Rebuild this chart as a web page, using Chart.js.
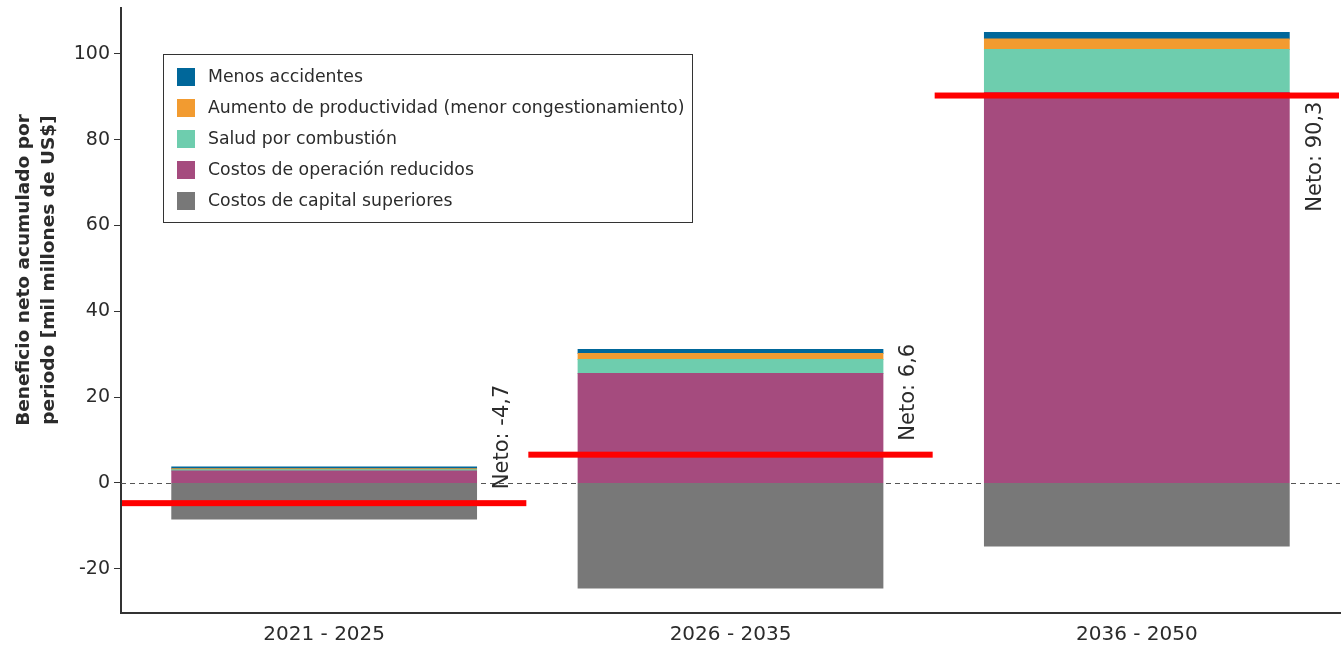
<!DOCTYPE html>
<html><head><meta charset="utf-8">
<script src="https://cdn.jsdelivr.net/npm/chart.js@4.4.0/dist/chart.umd.min.js"></script>
<style>html,body{margin:0;padding:0;background:#fff}#wrap{width:1342px;height:648px;position:relative}</style>
</head><body><div id="wrap"><canvas id="c"></canvas></div>
<script>
const categories = ['2021 - 2025', '2026 - 2035', '2036 - 2050'];
const capitalCosts = [-8.4, -24.5, -14.7];
const operatingSavings = [2.8, 25.5, 91.0];
const combustionHealth = [0.3, 3.3, 10.0];
const productivity = [0.2, 1.4, 2.5];
const fewerAccidents = [0.4, 0.9, 1.5];
const netBenefit = [-4.7, 6.6, 90.3];
const netLabels = ['Neto: -4,7', 'Neto: 6,6', 'Neto: 90,3'];
const yTicks = [-20, 0, 20, 40, 60, 80, 100];
const yTitle = ['Beneficio neto acumulado por', 'periodo [mil millones de US$]'];

const FONT = "'DejaVu Sans', sans-serif";
const TXT = '#2b2b2b';

const datasets = [
  {label: 'Costos de capital superiores', data: capitalCosts, backgroundColor: '#787878'},
  {label: 'Costos de operación reducidos', data: operatingSavings, backgroundColor: '#a54b7e'},
  {label: 'Salud por combustión', data: combustionHealth, backgroundColor: '#6ecdae'},
  {label: 'Aumento de productividad (menor congestionamiento)', data: productivity, backgroundColor: '#f29b30'},
  {label: 'Menos accidentes', data: fewerAccidents, backgroundColor: '#00679a'}
];

const overlay = {
  id: 'overlay',
  beforeDatasetsDraw(chart) {
    const {ctx, chartArea: a, scales: {y}} = chart;
    const y0 = Math.round(y.getPixelForValue(0)) + 0.5;
    ctx.save();
    ctx.strokeStyle = '#555';
    ctx.lineWidth = 1;
    ctx.setLineDash([5, 4]);
    ctx.beginPath(); ctx.moveTo(a.left, y0); ctx.lineTo(a.right, y0); ctx.stroke();
    ctx.restore();
  },
  afterDatasetsDraw(chart) {
    const {ctx, chartArea: a, scales: {x, y}} = chart;
    const step = x.getPixelForValue(1) - x.getPixelForValue(0);
    ctx.save();
    // net lines
    netBenefit.forEach((v, i) => {
      const cx = x.getPixelForValue(i);
      const py = y.getPixelForValue(v);
      ctx.fillStyle = '#ff0000';
      ctx.fillRect(cx - step / 2 + 1, py - 3, step - 2, 6);
    });
    // net labels
    ctx.font = '21px ' + FONT;
    ctx.fillStyle = TXT;
    ctx.textBaseline = 'middle';
    netBenefit.forEach((v, i) => {
      const cx = x.getPixelForValue(i);
      const py = y.getPixelForValue(v);
      const tx = cx + step * 0.375 + 26;
      const w = ctx.measureText(netLabels[i]).width;
      ctx.save();
      ctx.translate(tx, py);
      ctx.rotate(-Math.PI / 2);
      if (py - w - 20 > a.top) { ctx.textAlign = 'left'; ctx.fillText(netLabels[i], 14, 0); }
      else { ctx.textAlign = 'right'; ctx.fillText(netLabels[i], -6, 0); }
      ctx.restore();
    });
    // legend
    const lx = a.left + 42, ly = 54, lw = 529, lh = 168;
    ctx.strokeStyle = '#333'; ctx.lineWidth = 1;
    ctx.strokeRect(lx + 0.5, ly + 0.5, lw, lh);
    ctx.font = '17.3px ' + FONT;
    ctx.textAlign = 'left';
    const order = datasets.slice().reverse();
    order.forEach((d, i) => {
      const ry = ly + 23 + i * 31;
      ctx.fillStyle = d.backgroundColor;
      ctx.fillRect(lx + 14, ry - 9, 18, 18);
      ctx.fillStyle = TXT;
      ctx.fillText(d.label, lx + 45, ry + 1);
    });
    // y title
    ctx.font = 'bold 18.5px ' + FONT;
    ctx.fillStyle = TXT;
    ctx.textAlign = 'center';
    yTitle.forEach((t, i) => {
      ctx.save();
      ctx.translate(24 + i * 25, 270);
      ctx.rotate(-Math.PI / 2);
      ctx.fillText(t, 0, 0);
      ctx.restore();
    });
    ctx.restore();
  }
};

new Chart(document.getElementById('c'), {
  type: 'bar',
  data: {labels: categories, datasets: datasets},
  options: {
    responsive: true,
    maintainAspectRatio: false,
    animation: false,
    layout: {padding: {top: 8, right: 2, left: 0, bottom: 0}},
    datasets: {bar: {categoryPercentage: 1, barPercentage: 0.75, borderWidth: 0, inflateAmount: 0.5}},
    plugins: {legend: {display: false}, tooltip: {enabled: false}},
    scales: {
      x: {
        stacked: true,
        grid: {drawOnChartArea: false, drawTicks: false, color: 'transparent'},
        border: {display: true, color: '#333', width: 2},
        ticks: {font: {family: FONT, size: 20}, color: TXT, padding: 10},
        afterFit(s) { s.height = 35; s.paddingLeft = 0; s.paddingRight = 0; }
      },
      y: {
        stacked: true,
        min: -30.3, max: 110.7,
        afterBuildTicks(s) { s.ticks = yTicks.map(v => ({value: v})); },
        grid: {drawOnChartArea: false, drawTicks: true, tickLength: 7, tickColor: '#333', tickWidth: 1},
        border: {display: true, color: '#333', width: 2},
        ticks: {font: {family: FONT, size: 19}, color: TXT, padding: 4},
        afterFit(s) { s.width = 121; s.paddingTop = 0; s.paddingBottom = 0; }
      }
    }
  },
  plugins: [overlay]
});
</script></body></html>
